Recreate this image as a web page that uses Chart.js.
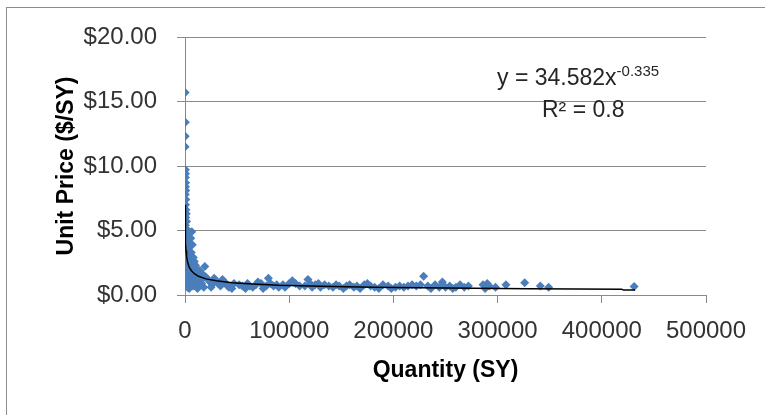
<!DOCTYPE html>
<html>
<head>
<meta charset="utf-8">
<script src="https://cdn.jsdelivr.net/npm/chart.js@4.4.1/dist/chart.umd.min.js"></script>
<style>
    html, body { margin: 0; padding: 0; background: #fff; }
</style>
</head>
<body>
<canvas id="priceChart" width="765" height="415"></canvas>
<script>
//#region Data
// quantity (SY) and unit price ($/SY) of each bid item
const quantity = [
    200, 300, 250, 150, 400, 500, 350, 600, 450, 700, 300, 800, 550, 900, 1200, 650, 1500, 400, 1800, 1000,
    2200, 700, 2600, 1400, 3000, 500, 3500, 1800, 4000, 900, 4500, 2500, 5000, 1200, 6000, 3000, 600, 7000, 4000, 1500,
    8000, 2000, 5500, 900, 3500, 7500, 2500, 1000, 6500, 5500, 7000, 6000, 8000, 9000, 10000, 11000, 12000, 13000, 14000, 15000,
    16000, 10000, 18000, 19000, 20000, 22000, 24000, 26000, 28000, 30000, 32000, 34000, 36000, 38000, 40000, 42000, 45000, 47000, 12000, 14000,
    17000, 9000, 11000, 25000, 3000, 5000, 2000, 6000, 8000, 4000,
    52000, 55000, 58000, 60000, 62000, 65000, 68000, 70000, 73000, 75000, 78000, 80000, 82000, 85000, 88000, 90000, 94000, 96000, 100000, 103000,
    106000, 110000, 115000, 118000, 120000, 122000, 125000, 128000, 130000, 134000, 138000, 142000, 145000, 148000, 152000, 155000, 158000, 162000, 165000, 168000,
    172000, 175000, 178000, 182000, 186000, 190000, 195000, 198000, 202000, 206000, 210000, 214000, 218000, 222000, 226000, 229000, 233000, 236000, 240000, 244000,
    247000, 250000, 254000, 257000, 260000, 264000, 268000, 272000, 286000, 288000, 290000, 292000, 298000, 308000, 326000, 341000, 349000, 431000
]
const unitPrice = [
    15.7, 13.4, 12.3, 11.5, 9.7, 9.4, 9.1, 8.7, 8.4, 8.1, 7.8, 7.4, 7.0, 6.6, 6.3, 6.0, 5.7, 5.4, 5.1, 4.8,
    4.6, 4.3, 4.1, 3.8, 3.6, 3.4, 3.2, 3.0, 2.8, 2.6, 2.5, 2.3, 2.2, 2.0, 1.9, 1.8, 1.6, 1.6, 1.4, 1.3,
    1.3, 1.1, 1.0, 0.9, 0.8, 0.7, 0.6, 1.2, 4.9, 4.4, 3.9, 3.3, 2.9, 2.6, 2.3, 2.0, 1.7, 1.5, 1.3, 1.1,
    0.9, 0.7, 0.6, 2.2, 1.4, 1.2, 1.0, 0.8, 1.3, 1.1, 0.9, 0.7, 1.2, 1.0, 0.8, 0.6, 0.5, 0.9, 0.5, 1.9,
    1.6, 1.0, 0.8, 0.6, 1.0, 0.7, 0.8, 1.2, 0.9, 0.5,
    0.8, 0.7, 0.5, 0.9, 0.7, 0.6, 0.8, 1.0, 0.9, 0.5, 0.7, 1.3, 0.9, 0.7, 0.8, 0.6, 0.8, 0.6, 0.9, 1.1,
    0.9, 0.7, 0.7, 1.2, 0.9, 0.6, 0.8, 0.9, 0.6, 0.8, 0.7, 0.6, 0.8, 0.7, 0.5, 0.7, 0.8, 0.6, 0.7, 0.5,
    0.8, 0.9, 0.7, 0.6, 0.5, 0.8, 0.7, 0.5, 0.6, 0.7, 0.6, 0.7, 0.8, 0.7, 0.8, 1.45, 0.7, 0.5, 0.8, 0.6,
    1.0, 0.6, 0.7, 0.5, 0.6, 0.8, 0.6, 0.7, 0.8, 0.5, 0.9, 0.7, 0.6, 0.8, 0.95, 0.7, 0.6, 0.65
]

// power trendline as drawn in the picture
const trendQuantity = [117, 200, 400, 700, 1000, 1500, 2500, 4000, 6000, 9000, 13000, 20000, 30000, 45000, 65000, 90000, 130000, 180000, 250000, 330000, 419000, 421000, 432000]
const trendPrice = [7.0, 6.0, 4.75, 3.95, 3.45, 3.0, 2.55, 2.15, 1.9, 1.65, 1.45, 1.25, 1.1, 0.95, 0.85, 0.75, 0.67, 0.6, 0.54, 0.49, 0.45, 0.38, 0.38]

const xTicks = [0, 100000, 200000, 300000, 400000, 500000]
const yTicks = [0, 5, 10, 15, 20]
const equationMain = "y = 34.582x"
const equationExp = "-0.335"
const rSquaredText = "R² = 0.8"
//#endregion

const FONT = "'Liberation Sans', Arial, sans-serif"
const GRID = "#8a8a8a"

//#region Plugins
const frameAndEquation = {
    id: "frameAndEquation",
    beforeDraw: chart => {
        let ctx = chart.ctx
        ctx.save()
        ctx.strokeStyle = "#8c8c8c"
        ctx.lineWidth = 1
        ctx.strokeRect(6.5, 7.5, 820, 500)
        ctx.restore()
    },
    afterDraw: chart => {
        let ctx = chart.ctx
        ctx.save()
        ctx.fillStyle = "#262626"
        ctx.textBaseline = "alphabetic"
        ctx.font = "23px " + FONT
        ctx.fillText(equationMain, 497, 85)
        let w = ctx.measureText(equationMain).width
        ctx.font = "15px " + FONT
        ctx.fillText(equationExp, 497 + w, 76)
        ctx.font = "23px " + FONT
        ctx.fillText(rSquaredText, 542, 117)
        ctx.restore()
    }
}
//#endregion

//#region Chart
const points = quantity.map((q, i) => ({ x: q, y: unitPrice[i] }))
const trend = trendQuantity.map((q, i) => ({ x: q, y: trendPrice[i] }))

new Chart("priceChart", {
    type: "scatter",
    data: {
        datasets: [{
            data: trend,
            showLine: true,
            borderColor: "#000",
            borderWidth: 1.5,
            pointRadius: 0,
            tension: 0
        }, {
            data: points,
            pointStyle: "rectRot",
            pointRadius: 4.5,
            backgroundColor: "#4a7ebb",
            borderColor: "#4a7ebb",
            borderWidth: 0
        }]
    },
    options: {
        responsive: false,
        animation: false,
        devicePixelRatio: 1,
        layout: { padding: { left: 0, top: 37, right: 59, bottom: 0 } },
        plugins: { legend: { display: false }, tooltip: { enabled: false } },
        scales: {
            x: {
                type: "linear",
                min: 0,
                max: 500000,
                afterBuildTicks: s => { s.ticks = xTicks.map(v => ({ value: v })) },
                afterFit: s => { s.height = 120 },
                ticks: {
                    font: { family: FONT, size: 24 },
                    color: "#333",
                    padding: 14,
                    maxRotation: 0,
                    callback: v => String(v)
                },
                grid: { drawOnChartArea: false, tickLength: 8, color: GRID },
                border: { color: GRID },
                title: {
                    display: true,
                    text: "Quantity (SY)",
                    font: { family: FONT, size: 23, weight: "bold" },
                    color: "#000",
                    padding: { top: 0, bottom: 31 }
                }
            },
            y: {
                min: 0,
                max: 20,
                afterBuildTicks: s => { s.ticks = yTicks.map(v => ({ value: v })) },
                afterFit: s => { s.width = 185 },
                ticks: {
                    font: { family: FONT, size: 24 },
                    color: "#333",
                    padding: 20,
                    callback: v => "$" + v.toFixed(2)
                },
                grid: { tickLength: 8, color: GRID },
                border: { color: GRID },
                title: {
                    display: true,
                    text: "Unit Price ($/SY)",
                    font: { family: FONT, size: 23, weight: "bold" },
                    color: "#000",
                    padding: { top: 53, bottom: 0 }
                }
            }
        }
    },
    plugins: [frameAndEquation]
})
//#endregion
</script>
</body>
</html>
